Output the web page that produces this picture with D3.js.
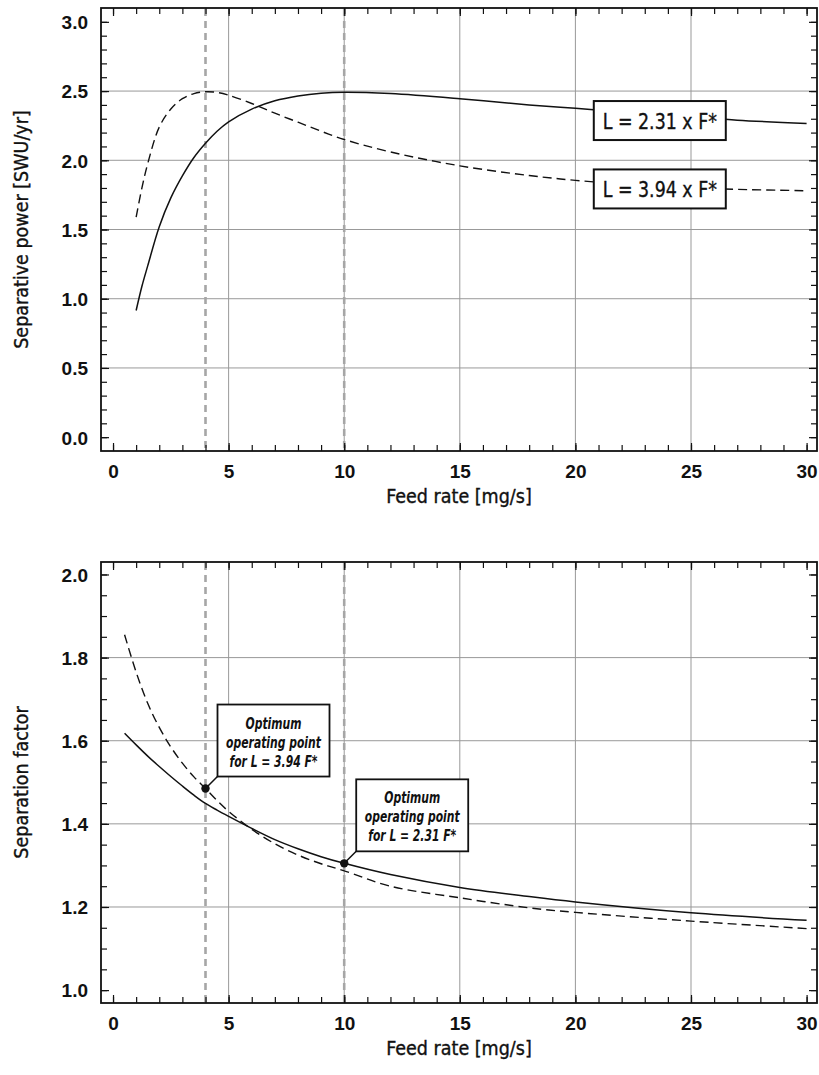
<!DOCTYPE html>
<html>
<head>
<meta charset="utf-8">
<style>
  body { margin: 0; background: #fff; }
  svg { display: block; font-family: 'DejaVu Sans Condensed', 'DejaVu Sans', sans-serif; }
  .tick line { stroke: #111; stroke-width: 1.2; }
  .tick text { font-size: 19px; font-weight: bold; fill: #111; }
  .axis-title { font-size: 19.5px; fill: #111; stroke: #111; stroke-width: 0.35; }
  .grid { stroke: #999; stroke-width: 1; }
  .optimum-line { stroke: #a6a6a6; stroke-width: 2.6; stroke-dasharray: 7 5; }
  .frame { fill: none; stroke: #111; stroke-width: 1.8; }
</style>
</head>
<body>
<svg width="819" height="1075"></svg>

<script src="https://d3js.org/d3.v7.min.js"></script>
<script>
  // values
  const feedPower = [1, 1.25, 1.5, 2, 2.5, 3, 3.5, 4, 4.5, 5, 6, 7, 8, 9, 10, 12, 15, 18, 20, 22, 25, 27, 30]
  const powerL231 = [0.915, 1.09, 1.237, 1.52, 1.728, 1.887, 2.02, 2.123, 2.21, 2.278, 2.37, 2.43, 2.465, 2.485, 2.492, 2.482, 2.445, 2.40, 2.375, 2.35, 2.315, 2.29, 2.265]
  const powerL394 = [1.59, 1.80, 1.975, 2.24, 2.37, 2.445, 2.482, 2.495, 2.49, 2.47, 2.41, 2.34, 2.275, 2.21, 2.15, 2.06, 1.96, 1.89, 1.855, 1.83, 1.80, 1.79, 1.78]

  const feedFactor = [0.5, 1, 1.5, 2, 2.5, 3, 3.5, 4, 4.5, 5, 6, 7, 8, 9, 10, 12, 15, 18, 20, 25, 30]
  const factorL231 = [1.618, 1.59, 1.563, 1.538, 1.514, 1.491, 1.469, 1.449, 1.433, 1.418, 1.389, 1.362, 1.34, 1.321, 1.305, 1.278, 1.247, 1.225, 1.212, 1.186, 1.168]
  const factorL394 = [1.855, 1.765, 1.69, 1.632, 1.585, 1.546, 1.513, 1.485, 1.456, 1.43, 1.387, 1.352, 1.325, 1.304, 1.287, 1.25, 1.222, 1.198, 1.187, 1.166, 1.148]

  const optimumFeed = [4, 10]
  const optimumFactor = [1.485, 1.305]
  const optimumText = [
    ["Optimum", "operating point", "for L = 3.94 F*"],
    ["Optimum", "operating point", "for L = 2.31 F*"]
  ]
  const seriesLabels = ["L = 2.31 x F*", "L = 3.94 x F*"]

  const xMajor = [0, 5, 10, 15, 20, 25, 30]
  const xMinor = d3.range(0, 31)
  const powerMajor = [0, 0.5, 1.0, 1.5, 2.0, 2.5, 3.0]
  const powerMinor = d3.range(0, 31).map(i => i / 10)
  const factorMajor = [1.0, 1.2, 1.4, 1.6, 1.8, 2.0]
  const factorMinor = d3.range(0, 21).map(i => 1 + i / 20)

  const svg = d3.select("svg")
  const left = 101, right = 817

  let x = d3.scaleLinear().domain([-0.52, 30.45]).range([left, right])

  function panel(opt) {
    let y = d3.scaleLinear().domain(opt.yDomain).range([opt.bottom, opt.top])
    let g = svg.append("g")

    // grid, inner lines only
    g.selectAll(".gx")
      .data(xMajor.slice(1, -1))
      .join("line")
      .attr("class", "grid")
      .attr("x1", d => x(d)).attr("x2", d => x(d))
      .attr("y1", opt.top).attr("y2", opt.bottom)

    g.selectAll(".gy")
      .data(opt.yMajor.slice(1, -1))
      .join("line")
      .attr("class", "grid")
      .attr("x1", left).attr("x2", right)
      .attr("y1", d => y(d)).attr("y2", d => y(d))

    // optimum feed rates
    g.selectAll(".opt")
      .data(optimumFeed)
      .join("line")
      .attr("class", "optimum-line")
      .attr("x1", d => x(d)).attr("x2", d => x(d))
      .attr("y1", opt.top + 1).attr("y2", opt.bottom - 1)

    let line = d3.line()
      .x(d => x(d[0]))
      .y(d => y(d[1]))
      .curve(d3.curveCatmullRom.alpha(0.5))

    g.append("path")
      .datum(d3.zip(opt.feed, opt.solid))
      .attr("d", line)
      .style("fill", "none")
      .style("stroke", "#111")
      .style("stroke-width", 1.5)

    g.append("path")
      .datum(d3.zip(opt.feed, opt.dashed))
      .attr("d", line)
      .style("fill", "none")
      .style("stroke", "#111")
      .style("stroke-width", 1.4)
      .style("stroke-dasharray", "9 5")

    // axes: ticks pointing inward on all four sides
    let sides = [
      [d3.axisBottom, x, "translate(0," + opt.bottom + ")", xMinor, xMajor],
      [d3.axisTop, x, "translate(0," + opt.top + ")", xMinor, xMajor],
      [d3.axisLeft, y, "translate(" + left + ",0)", opt.yMinor, opt.yMajor],
      [d3.axisRight, y, "translate(" + right + ",0)", opt.yMinor, opt.yMajor]
    ]
    sides.forEach(s => {
      g.append("g").attr("transform", s[2])
        .call(s[0](s[1]).tickValues(s[3]).tickSize(-6).tickFormat(""))
        .call(a => a.select(".domain").remove())
      g.append("g").attr("transform", s[2])
        .call(s[0](s[1]).tickValues(s[4]).tickSize(-8).tickFormat(""))
        .call(a => a.select(".domain").remove())
    })

    g.append("g")
      .attr("transform", "translate(0," + opt.bottom + ")")
      .call(d3.axisBottom(x).tickValues(xMajor).tickSize(0).tickFormat(d3.format("d")))
      .call(a => a.select(".domain").remove())
      .selectAll("text")
      .attr("y", 27)
      .attr("dy", 0)

    g.append("g")
      .attr("transform", "translate(" + left + ",0)")
      .call(d3.axisLeft(y).tickValues(opt.yMajor).tickSize(0).tickFormat(d3.format(".1f")))
      .call(a => a.select(".domain").remove())
      .selectAll("text")
      .attr("x", -13)
      .attr("dy", "0.36em")

    g.append("rect")
      .attr("class", "frame")
      .attr("x", left).attr("y", opt.top)
      .attr("width", right - left).attr("height", opt.bottom - opt.top)

    g.append("text")
      .attr("class", "axis-title")
      .attr("x", (left + right) / 2)
      .attr("y", opt.bottom + 52)
      .attr("text-anchor", "middle")
      .text("Feed rate [mg/s]")

    g.append("text")
      .attr("class", "axis-title")
      .attr("transform", "translate(28," + (opt.top + opt.bottom) / 2 + ") rotate(-90)")
      .attr("text-anchor", "middle")
      .text(opt.title)

    return { g, y }
  }

  let upper = panel({
    top: 8, bottom: 451,
    yDomain: [-0.1, 3.1],
    yMajor: powerMajor, yMinor: powerMinor,
    feed: feedPower, solid: powerL231, dashed: powerL394,
    title: "Separative power [SWU/yr]"
  })

  let lower = panel({
    top: 562, bottom: 1003,
    yDomain: [0.969, 2.030],
    yMajor: factorMajor, yMinor: factorMinor,
    feed: feedFactor, solid: factorL231, dashed: factorL394,
    title: "Separation factor"
  })

  // series labels in the upper panel
  let labelPos = [[23.65, 2.287], [23.65, 1.793]]
  let labels = upper.g.selectAll(".series-label")
    .data(seriesLabels)
    .join("g")
    .attr("transform", (d, i) => "translate(" + x(labelPos[i][0]) + "," + upper.y(labelPos[i][1]) + ")")

  labels.append("rect")
    .attr("x", -66).attr("y", -19.5)
    .attr("width", 132).attr("height", 39)
    .style("fill", "white")
    .style("stroke", "#111")
    .style("stroke-width", 2)

  // narrow face: scale a larger size down horizontally
  labels.append("text")
    .attr("text-anchor", "middle")
    .attr("transform", "translate(0,8) scale(0.88,1)")
    .style("font-size", "22px")
    .style("fill", "#111")
    .style("stroke", "#111")
    .style("stroke-width", 0.35)
    .text(d => d)

  // optimum operating points in the lower panel
  let notes = lower.g.selectAll(".note")
    .data(optimumFeed)
    .join("g")
    .attr("transform", (d, i) => "translate(" + x(d) + "," + lower.y(optimumFactor[i]) + ")")

  notes.append("line")
    .attr("x1", 0).attr("y1", 0)
    .attr("x2", 12).attr("y2", -12)
    .style("stroke", "#111")
    .style("stroke-width", 1.5)

  notes.append("rect")
    .attr("x", 12).attr("y", -84)
    .attr("width", 112).attr("height", 72)
    .style("fill", "white")
    .style("stroke", "#111")
    .style("stroke-width", 1.8)

  notes.append("circle")
    .attr("r", 4.2)
    .style("fill", "#111")

  notes.append("text")
    .attr("text-anchor", "middle")
    .attr("transform", "translate(68,0) scale(0.8,1)")
    .style("font-size", "15px")
    .style("font-style", "italic")
    .style("font-weight", "bold")
    .style("fill", "#111")
    .selectAll("tspan")
    .data((d, i) => optimumText[i])
    .join("tspan")
    .attr("x", 0)
    .attr("y", (d, j) => -60 + j * 19)
    .text(d => d)
</script>
</body>
</html>
